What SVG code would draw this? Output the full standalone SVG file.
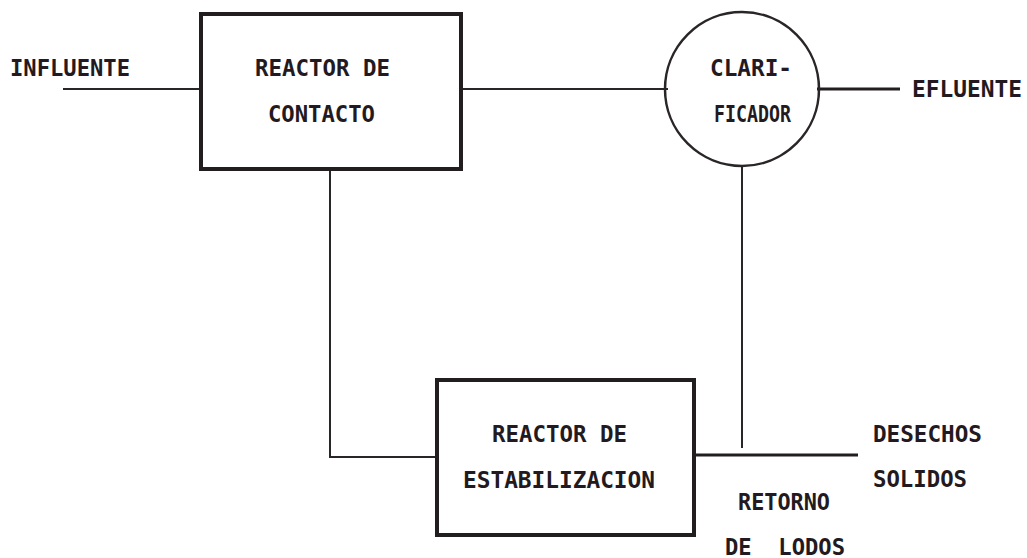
<svg xmlns="http://www.w3.org/2000/svg" width="1027" height="558" viewBox="0 0 1027 558">
<style>
.t{font-family:"DejaVu Sans Mono","Liberation Mono",monospace;font-weight:bold;font-size:23px;fill:#221a20;white-space:pre}
.box{fill:none;stroke:#221e20;stroke-width:4}
.ln{fill:none;stroke:#2a2628;stroke-width:2}
.thk{fill:none;stroke:#221e20;stroke-width:3}
</style>
<rect width="1027" height="558" fill="#ffffff"/>
<g id="connectors">
<line class="ln" x1="63" y1="89" x2="201" y2="89"/>
<line class="ln" x1="461" y1="89" x2="668" y2="89"/>
<line class="thk" x1="817" y1="89" x2="900" y2="89"/>
<polyline class="ln" points="330,169 330,457 437,457"/>
<line class="ln" x1="742" y1="166" x2="742" y2="448"/>
<line class="thk" x1="694" y1="455" x2="858" y2="455"/>
</g>
<g id="influente"><text class="t" x="10" y="76" textLength="120" lengthAdjust="spacingAndGlyphs">INFLUENTE</text></g>
<g id="reactor-contacto">
<rect class="box" x="201" y="14" width="260" height="155"/>
<text class="t" x="255" y="76" textLength="135" lengthAdjust="spacingAndGlyphs">REACTOR DE</text>
<text class="t" x="268" y="122" textLength="107" lengthAdjust="spacingAndGlyphs">CONTACTO</text>
</g>
<g id="clarificador">
<circle cx="742" cy="89" r="77" fill="none" stroke="#2a2628" stroke-width="2.5"/>
<text class="t" x="710" y="76" textLength="82" lengthAdjust="spacingAndGlyphs">CLARI-</text>
<text class="t" x="714" y="122" textLength="77" lengthAdjust="spacingAndGlyphs">FICADOR</text>
</g>
<g id="efluente"><text class="t" x="912" y="97" textLength="110" lengthAdjust="spacingAndGlyphs">EFLUENTE</text></g>
<g id="reactor-estabilizacion">
<rect class="box" x="437" y="380" width="257" height="155"/>
<text class="t" x="492" y="442" textLength="135" lengthAdjust="spacingAndGlyphs">REACTOR DE</text>
<text class="t" x="463" y="488" textLength="192" lengthAdjust="spacingAndGlyphs">ESTABILIZACION</text>
</g>
<g id="desechos">
<text class="t" x="873" y="442" textLength="109" lengthAdjust="spacingAndGlyphs">DESECHOS</text>
<text class="t" x="873" y="487" textLength="94" lengthAdjust="spacingAndGlyphs">SOLIDOS</text>
</g>
<g id="retorno">
<text class="t" x="738" y="510" textLength="92" lengthAdjust="spacingAndGlyphs">RETORNO</text>
<text class="t" x="725" y="555" textLength="120" lengthAdjust="spacingAndGlyphs">DE  LODOS</text>
</g>
</svg>
